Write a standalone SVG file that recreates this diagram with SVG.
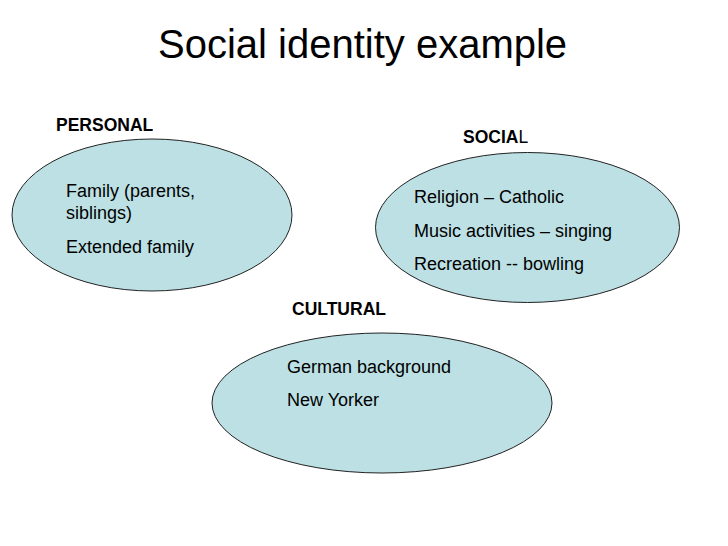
<svg xmlns="http://www.w3.org/2000/svg" width="728" height="546" viewBox="0 0 728 546">
<style>
.e{fill:#bce0e4;stroke:#222;stroke-width:1}
text{font-family:"Liberation Sans",Arial,sans-serif;fill:#000}
.t{font-size:40px}
.h{font-size:17.5px;font-weight:bold}
.b{font-size:18px}
</style>
<rect width="728" height="546" fill="#fff"/>
<text class="t" x="158" y="58">Social identity example</text>
<g id="personal">
<ellipse class="e" cx="152" cy="215" rx="140" ry="76"/>
<text class="h" x="56" y="131">PERSONAL</text>
<text class="b" x="66" y="197">Family (parents,</text>
<text class="b" x="66" y="219">siblings)</text>
<text class="b" x="66" y="253">Extended family</text>
</g>
<g id="social">
<ellipse class="e" cx="527.5" cy="227.5" rx="152" ry="75"/>
<text class="h" x="463" y="143">SOCIA<tspan font-weight="normal">L</tspan></text>
<text class="b" x="414" y="203">Religion – Catholic</text>
<text class="b" x="414" y="237">Music activities – singing</text>
<text class="b" x="414" y="270">Recreation -- bowling</text>
</g>
<g id="cultural">
<ellipse class="e" cx="382" cy="403" rx="170" ry="70"/>
<text class="h" x="292" y="315">CULTURAL</text>
<text class="b" x="287" y="373">German background</text>
<text class="b" x="287" y="406">New Yorker</text>
</g>
<g id="connectors"/>
</svg>
